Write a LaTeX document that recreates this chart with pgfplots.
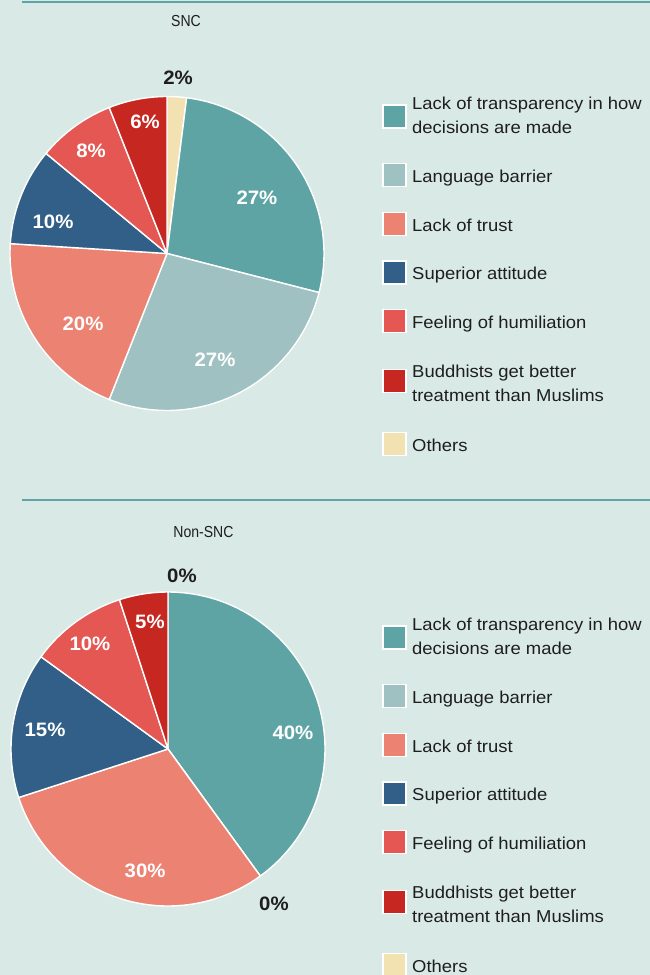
\documentclass[border=0pt]{standalone}
\usepackage{pgfplots}
\pgfplotsset{compat=1.18}
\usepackage{pgfplotstable}
\usepackage{fontspec}
\setmainfont{Liberation Sans}
\newfontfamily\titlefont[FakeStretch=0.88]{Liberation Sans}
\newfontfamily\legendface[FakeStretch=1.07]{Liberation Sans}
\newfontfamily\pctface[FakeStretch=1.05]{Liberation Sans}

\definecolor{bg}{HTML}{D9E9E5}
\definecolor{rulec}{HTML}{5FA4A5}
\definecolor{cTransp}{HTML}{5FA4A5}
\definecolor{cLang}{HTML}{A0C1C2}
\definecolor{cTrust}{HTML}{EC8272}
\definecolor{cSup}{HTML}{315F87}
\definecolor{cHum}{HTML}{E45752}
\definecolor{cBud}{HTML}{C62720}
\definecolor{cOth}{HTML}{F2E2B2}
\definecolor{txt}{HTML}{1E1E1E}

% slices clockwise from 12 o'clock: percentage, colour, label position (axis units), label colour
\pgfplotstableread{
pct col lx ly lc
2 cOth 0.070 1.124 txt
27 cTransp 0.573 0.354 white
27 cLang 0.306 -0.672 white
20 cTrust -0.535 -0.443 white
10 cSup -0.726 0.207 white
8 cHum -0.484 0.659 white
6 cBud -0.140 0.838 white
}\snctable

\pgfplotstableread{
pct col lx ly lc
0 cOth 0.089 1.108 txt
40 cTransp 0.796 0.108 white
0 cLang 0.675 -0.981 txt
30 cTrust -0.146 -0.771 white
15 cSup -0.783 0.127 white
10 cHum -0.497 0.675 white
5 cBud -0.115 0.815 white
}\nonsnctable

\newcommand{\pctfont}{\pctface\bfseries\fontsize{19.5}{19.5}\selectfont}
\newcommand{\legfont}{\legendface\fontsize{17.3}{24}\selectfont}

\newcommand{\drawpie}[1]{%
  \gdef\cum{0}%
  \foreach \i in {0,...,6}{%
    \pgfplotstablegetelem{\i}{pct}\of{#1}\let\slicepct\pgfplotsretval
    \pgfplotstablegetelem{\i}{col}\of{#1}\let\slicecol\pgfplotsretval
    \pgfplotstablegetelem{\i}{lx}\of{#1}\let\labx\pgfplotsretval
    \pgfplotstablegetelem{\i}{ly}\of{#1}\let\laby\pgfplotsretval
    \pgfplotstablegetelem{\i}{lc}\of{#1}\let\labcol\pgfplotsretval
    \pgfmathsetmacro{\angA}{90-3.6*\cum}%
    \pgfmathsetmacro{\angB}{\angA-3.6*\slicepct}%
    \pgfmathsetmacro{\xs}{cos(\angA)}%
    \pgfmathsetmacro{\ys}{sin(\angA)}%
    \edef\cmd{\noexpand\addplot[fill=\slicecol, draw=white, line width=1.4bp, line join=round]
      coordinates {(0,0) (\xs,\ys)} arc[start angle=\angA, end angle=\angB, radius=157bp] -- cycle;}%
    \cmd
    \edef\cmd{\noexpand\node[text=\labcol, font=\noexpand\pctfont, inner sep=0pt, text height=14bp, text depth=0pt, anchor=center]
      at (axis cs:\labx,\laby) {\slicepct\noexpand\%};}%
    \cmd
    \pgfmathsetmacro{\newcum}{\cum+\slicepct}%
    \xdef\cum{\newcum}%
  }%
}

\newcommand{\legbox}[2]{% y centre (px), colour
  \filldraw[fill=#2, draw=white, line width=1.4bp] (383bp,{-(#1-11.5)*1bp}) rectangle (406bp,{-(#1+11.5)*1bp});}
\newcommand{\legline}[2]{% baseline (px), text
  \node[anchor=base west, inner sep=0pt, text=txt, font=\legfont] at (412bp,{-(#1)*1bp}) {#2};}

\newcommand{\legend}[1]{% vertical offset
  \legbox{116.5+#1}{cTransp}
  \legline{109+#1}{Lack of transparency in how}
  \legline{133.3+#1}{decisions are made}
  \legbox{175+#1}{cLang}
  \legline{182+#1}{Language barrier}
  \legbox{224+#1}{cTrust}
  \legline{231+#1}{Lack of trust}
  \legbox{272.5+#1}{cSup}
  \legline{279.5+#1}{Superior attitude}
  \legbox{321+#1}{cHum}
  \legline{328+#1}{Feeling of humiliation}
  \legbox{381+#1}{cBud}
  \legline{377.3+#1}{Buddhists get better}
  \legline{401.7+#1}{treatment than Muslims}
  \legbox{444+#1}{cOth}
  \legline{451+#1}{Others}
}

\begin{document}
\begin{tikzpicture}
\fill[bg] (0,0) rectangle (650bp,-975bp);
\useasboundingbox (0,0) rectangle (650bp,-975bp);
% rules
\draw[rulec, line width=2.5bp] (22bp,-2bp) -- (650bp,-2bp);
\draw[rulec, line width=2bp] (22bp,-500bp) -- (650bp,-500bp);
% titles
\node[text=txt, font=\titlefont\fontsize{16}{16}\selectfont, inner sep=0pt, text height=11.5bp, text depth=0pt] at (186bp,-21bp) {SNC};
\node[text=txt, font=\titlefont\fontsize{16}{16}\selectfont, inner sep=0pt, text height=11.5bp, text depth=0pt] at (203.5bp,-532bp) {Non-SNC};

\begin{axis}[at={(167bp,-253.5bp)}, anchor=origin, x=157bp, y=157bp,
  xmin=-1, xmax=1, ymin=-1, ymax=1, hide axis, clip=false]
  \drawpie{\snctable}
\end{axis}

\begin{axis}[at={(168bp,-749bp)}, anchor=origin, x=157bp, y=157bp,
  xmin=-1, xmax=1, ymin=-1, ymax=1, hide axis, clip=false]
  \drawpie{\nonsnctable}
\end{axis}

\legend{0}
\legend{521}
\end{tikzpicture}
\end{document}
